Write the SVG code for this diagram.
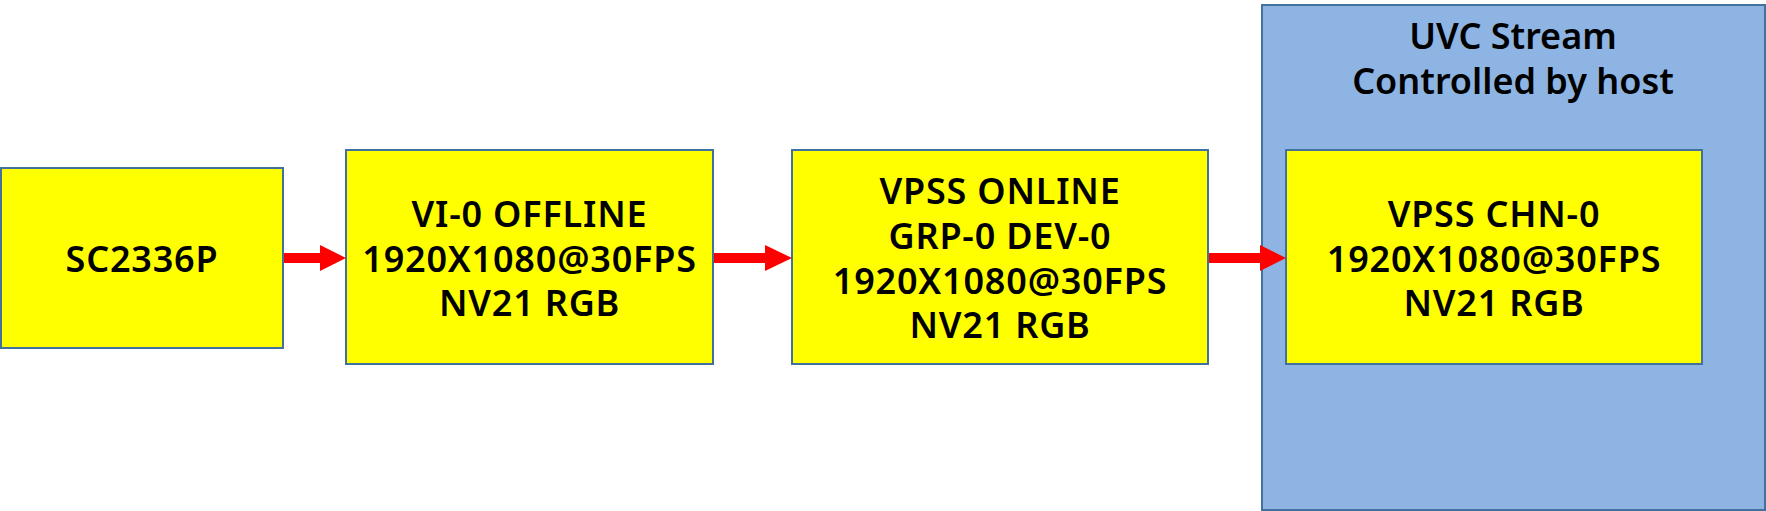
<svg xmlns="http://www.w3.org/2000/svg" width="1766" height="511" viewBox="0 0 1766 511">
<style>
.box{fill:#FFFF00;stroke:#41719C;stroke-width:2}
.cont{fill:#8DB4E2;stroke:#41719C;stroke-width:2}
.t{font-family:"Noto Sans","Liberation Sans",sans-serif;font-size:36px;font-weight:600;fill:#000;text-anchor:middle}
.n{letter-spacing:0.8px}
.arr{fill:#FF0000}
</style>
<rect width="1766" height="511" fill="#fff"/>
<g id="uvc">
<rect class="cont" x="1262" y="5" width="503" height="505"/>
<text class="t" x="1513" y="49">UVC Stream</text>
<text class="t" x="1513" y="94">Controlled by host</text>
</g>
<g id="sc2336p">
<rect class="box" x="1" y="168" width="282" height="180"/>
<text class="t n" x="142" y="272">SC2336P</text>
</g>
<g id="vi0">
<rect class="box" x="346" y="150" width="367" height="214"/>
<text class="t n" x="529.5" y="227">VI-0 OFFLINE</text>
<text class="t n" x="529.5" y="272">1920X1080@30FPS</text>
<text class="t n" x="529.5" y="316">NV21 RGB</text>
</g>
<g id="vpss">
<rect class="box" x="792" y="150" width="416" height="214"/>
<text class="t n" x="1000" y="204">VPSS ONLINE</text>
<text class="t n" x="1000" y="249">GRP-0 DEV-0</text>
<text class="t n" x="1000" y="294">1920X1080@30FPS</text>
<text class="t n" x="1000" y="338">NV21 RGB</text>
</g>
<g id="chn0">
<rect class="box" x="1286" y="150" width="416" height="214"/>
<text class="t n" x="1494" y="227">VPSS CHN-0</text>
<text class="t n" x="1494" y="272">1920X1080@30FPS</text>
<text class="t n" x="1494" y="316">NV21 RGB</text>
</g>
<g id="connectors">
<polygon class="arr" points="284,253 320,253 320,245 346,258 320,271 320,263 284,263"/>
<polygon class="arr" points="714,253 765,253 765,245 792,258 765,271 765,263 714,263"/>
<polygon class="arr" points="1209,253 1260,253 1260,245 1286,258 1260,271 1260,263 1209,263"/>
</g>
</svg>
